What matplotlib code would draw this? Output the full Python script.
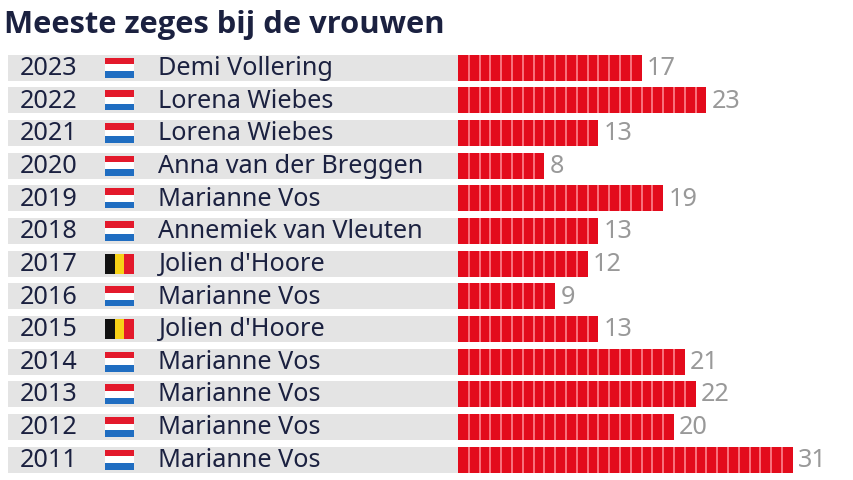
import matplotlib
matplotlib.use("Agg")
import matplotlib.pyplot as plt
from matplotlib.patches import Rectangle

years = [2023, 2022, 2021, 2020, 2019, 2018, 2017, 2016, 2015, 2014, 2013, 2012, 2011]
riders = ["Demi Vollering", "Lorena Wiebes", "Lorena Wiebes", "Anna van der Breggen",
          "Marianne Vos", "Annemiek van Vleuten", "Jolien d'Hoore", "Marianne Vos",
          "Jolien d'Hoore", "Marianne Vos", "Marianne Vos", "Marianne Vos", "Marianne Vos"]
countries = ["NL", "NL", "NL", "NL", "NL", "NL", "BE", "NL", "BE", "NL", "NL", "NL", "NL"]
wins = [17, 23, 13, 8, 19, 13, 12, 9, 13, 21, 22, 20, 31]
title = "Meeste zeges bij de vrouwen"
flag_colors = {"NL": ["#E3192B", "#FFFFFF", "#1F6DC1"], "BE": ["#111111", "#F7D117", "#E3192B"]}

W, H = 854, 480
UNIT, PITCH, X0, Y0 = 10.8, 32.65, 458, 67.8
ROW_H = 26 / PITCH
TEXT = "#1B2140"

plt.rcParams["font.family"] = ["Noto Sans", "DejaVu Sans"]
fig = plt.figure(figsize=(W / 100, H / 100), dpi=100, facecolor="white")
ax = fig.add_axes([0, 0, 1, 1])
ax.set_xlim(-X0 / UNIT, (W - X0) / UNIT)
ax.set_ylim((H - Y0) / PITCH, -Y0 / PITCH)
ax.axis("off")

px = lambda p: (p - X0) / UNIT   # horizontal layout offset in wins units

for i, (year, rider, country, n) in enumerate(zip(years, riders, countries, wins)):
    ax.add_patch(Rectangle((px(8), i - ROW_H / 2), px(X0) - px(8), ROW_H,
                           facecolor="#E4E4E4", edgecolor="none"))
    ax.barh([i] * n, [1] * n, left=list(range(n)), height=ROW_H,
            color="#E30B1C", edgecolor="none")
    for k in range(1, n):
        ax.plot([k, k], [i - ROW_H / 2, i + ROW_H / 2], color="#FF9098", lw=1.1,
                solid_capstyle="butt")
    ax.text(px(20), i + 0.02, str(year), fontsize=18.15, color=TEXT, ha="left", va="center")
    ax.text(px(158.5), i + 0.02, rider, fontsize=18.15, color=TEXT, ha="left", va="center")
    ax.text(n + 0.47, i + 0.02, str(n), fontsize=18.15, color="#999999", ha="left", va="center")

    cols = flag_colors[country]
    fx, fw, fh = px(105), 29 / UNIT, 20 / PITCH
    for k, c in enumerate(cols):
        if country == "NL":
            ax.add_patch(Rectangle((fx, i - fh / 2 + k * fh / 3), fw, fh / 3, facecolor=c, edgecolor="none"))
        else:
            ax.add_patch(Rectangle((fx + k * fw / 3, i - fh / 2), fw / 3, fh, facecolor=c, edgecolor="none"))

ax.text(px(4.5), (25 - Y0) / PITCH, title, fontsize=22.2, fontweight="bold",
        family=["Open Sans", "DejaVu Sans"], color=TEXT, ha="left", va="center")

fig.savefig("out.png", dpi=100)
